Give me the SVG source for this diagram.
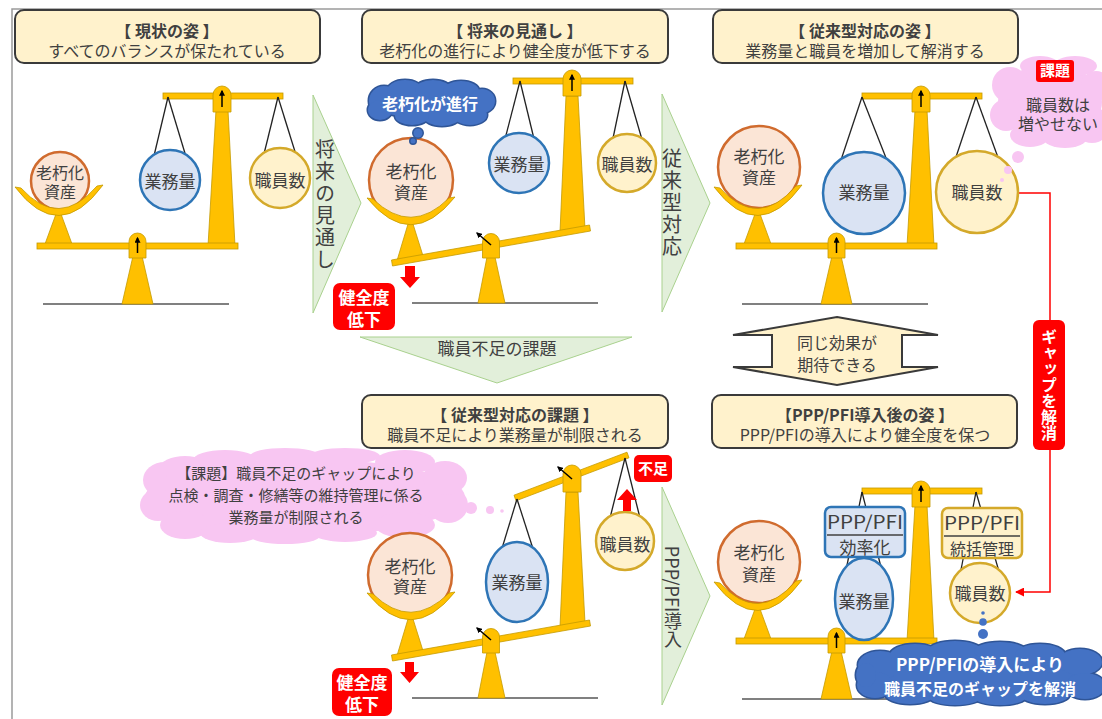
<svg xmlns="http://www.w3.org/2000/svg" width="1102" height="719" viewBox="0 0 1102 719">
<defs>
<style>
text{font-family:'Noto Sans CJK JP','Noto Sans',sans-serif;fill:#404040}
.c{text-anchor:middle}
.b{font-weight:bold}
.f15{font-size:15px}.f16{font-size:16px}.f17{font-size:17px}.f18{font-size:18px}.f20{font-size:20px}
.wt{fill:#fff;font-weight:bold;text-anchor:middle}
.title{fill:#fff2cc;stroke:#3a3a3a;stroke-width:2}
.gold{fill:#ffc000;stroke:#c49a00;stroke-width:0.8}
.ground{stroke:#808080;stroke-width:2}
.str{stroke:#222;stroke-width:1.3;fill:none}
.asset{fill:#fbe5d6;stroke:#d06b2e;stroke-width:2.5}
.work{fill:#dae3f3;stroke:#2e75b6;stroke-width:2.5}
.staff{fill:#fff2cc;stroke:#d4a92a;stroke-width:2.5}
.green{fill:#e2efda;stroke:#a9d18e;stroke-width:1}
.red{fill:#ff0000}
.pink{fill:#f8c6f2}
.blue-o{fill:#4472c4;stroke:#2f5597;stroke-width:3}
.blue-f{fill:#4472c4}
.ptr{stroke:#000;stroke-width:1.5;marker-end:url(#tip)}
.vt{writing-mode:vertical-rl;text-anchor:middle}
.sep{stroke:#404040;stroke-width:1.5}
</style>
<marker id="tip" viewBox="0 0 10 10" refX="8" refY="5" markerWidth="4" markerHeight="4" orient="auto"><path d="M0,0 L10,5 L0,10 Z" fill="#000"/></marker>
<marker id="redtip" viewBox="0 0 10 10" refX="9" refY="5" markerWidth="6" markerHeight="6" orient="auto"><path d="M0,0 L10,5 L0,10 Z" fill="#ff0000"/></marker>

<!-- level balance frame: beams, pillar, caps, pivot and floor -->
<g id="balance">
  <line class="ground" x1="43" y1="304" x2="229" y2="304"/>
  <polygon class="gold" points="133,256 142,256 153,304 122,304"/>
  <polygon class="gold" points="216,110 228,110 235,246 208,246"/>
  <polygon class="gold" points="56,214 61,214 72,244 45,244"/>
  <rect class="gold" x="37" y="243" width="201" height="6"/>
  <path class="gold" d="M129,258 V241.5 a8.5,8.5 0 0 1 17,0 V258 Z"/>
  <line class="ptr" x1="137.5" y1="253" x2="137.5" y2="238"/>
  <rect class="gold" x="163" y="93" width="120" height="6"/>
  <path class="gold" d="M213,112 V95 a9,9 0 0 1 18,0 V112 Z"/>
  <line class="ptr" x1="222" y1="107" x2="222" y2="91"/>
</g>
<path id="bowl" class="gold" d="M15,187 Q59,245 103,185 L97,186 Q59,230 21,188 Z"/>
<path id="tiltBowl" class="gold" d="M367,198 Q411,252 455,197 L449,198 Q411,236 373,199 Z"/>

<!-- blue cloud shapes -->
<g id="cloudSmall">
  <ellipse cx="430" cy="103" rx="56" ry="16"/>
  <circle cx="384" cy="101" r="15"/>
  <ellipse cx="405" cy="91" rx="18" ry="11"/>
  <ellipse cx="433" cy="89" rx="18" ry="9"/>
  <ellipse cx="461" cy="91" rx="18" ry="10"/>
  <ellipse cx="482" cy="101" rx="13" ry="12"/>
  <ellipse cx="470" cy="115" rx="17" ry="10"/>
  <ellipse cx="442" cy="117" rx="18" ry="9"/>
  <ellipse cx="412" cy="116" rx="17" ry="9"/>
  <ellipse cx="380" cy="110" rx="12" ry="10"/>
  <circle cx="418" cy="133" r="4.5"/>
  <circle cx="413" cy="141" r="2.5"/>
</g>
<g id="cloudLarge">
  <ellipse cx="980" cy="674" rx="110" ry="22"/>
  <ellipse cx="880" cy="665" rx="22" ry="14"/>
  <ellipse cx="915" cy="655" rx="25" ry="11"/>
  <ellipse cx="955" cy="650" rx="26" ry="9"/>
  <ellipse cx="1000" cy="651" rx="26" ry="9"/>
  <ellipse cx="1040" cy="655" rx="25" ry="11"/>
  <ellipse cx="1080" cy="662" rx="22" ry="13"/>
  <ellipse cx="875" cy="685" rx="18" ry="13"/>
  <ellipse cx="910" cy="694" rx="25" ry="10"/>
  <ellipse cx="955" cy="697" rx="26" ry="8"/>
  <ellipse cx="1000" cy="697" rx="26" ry="8"/>
  <ellipse cx="1045" cy="694" rx="25" ry="10"/>
  <ellipse cx="1085" cy="686" rx="20" ry="13"/>
  <ellipse cx="866" cy="675" rx="10" ry="12"/>
</g>
</defs>

<rect width="1102" height="719" fill="#fff"/>
<path d="M12,719 V9 H1102" fill="none" stroke="#9a9a9a" stroke-width="1.5"/>

<!-- connectors and flow arrows -->
<g id="connectors">
  <polygon class="green" points="313,95 361,203 313,313"/>
  <text class="vt f20" x="325" y="205" letter-spacing="2">将来の見通し</text>
  <polygon class="green" points="662,94 710,203 662,312"/>
  <text class="vt f20" x="672" y="203" letter-spacing="2">従来型対応</text>
  <polygon class="green" points="662,487 710,596 662,705"/>
  <text class="vt f18" x="673" y="597">PPP/PFI導入</text>
  <polygon class="green" points="360,337 632,337 497,383"/>
  <text class="c f17" x="497" y="355">職員不足の課題</text>
  <polygon points="837,317 938,335 902,335 902,367 938,367 837,385 733,367 772,367 772,335 733,335" fill="#fff2cc" stroke="#3a3a3a" stroke-width="2"/>
  <text class="c f16" x="837" y="349">同じ効果が</text>
  <text class="c f16" x="837" y="371">期待できる</text>
  <path d="M1018,193 H1050 V592 H1016" fill="none" stroke="#ff0000" stroke-width="1.5" marker-end="url(#redtip)"/>
  <rect class="red" x="1033" y="320" width="32" height="130" rx="6"/>
  <text class="vt wt f16" x="1049" y="385">ギャップを解消</text>
</g>

<!-- current state -->
<g id="panel-current">
  <rect class="title" x="15" y="10" width="305" height="53" rx="9"/>
  <text class="c b f16" x="167" y="37">【 現状の姿 】</text>
  <text class="c f16" x="167" y="57">すべてのバランスが保たれている</text>
  <use href="#balance"/>
  <line class="str" x1="168" y1="97" x2="153" y2="160"/>
  <line class="str" x1="168" y1="97" x2="187" y2="160"/>
  <line class="str" x1="278" y1="97" x2="263" y2="158"/>
  <line class="str" x1="278" y1="97" x2="297" y2="158"/>
  <circle class="asset" cx="60" cy="181" r="29"/>
  <text class="c f16" x="60" y="179">老朽化</text>
  <text class="c f16" x="60" y="198">資産</text>
  <use href="#bowl"/>
  <circle class="work" cx="170" cy="180" r="30"/>
  <text class="c f17" x="170" y="188">業務量</text>
  <circle class="staff" cx="280" cy="178" r="30"/>
  <text class="c f17" x="280" y="187">職員数</text>
</g>

<!-- outlook -->
<g id="panel-outlook">
  <rect class="title" x="362" y="10" width="306" height="53" rx="9"/>
  <text class="c b f16" x="515" y="37">【 将来の見通し 】</text>
  <text class="c f16" x="515" y="57">老朽化の進行により健全度が低下する</text>
  <line class="ground" x1="412" y1="303" x2="598" y2="303"/>
  <polygon class="gold" points="487,257 495,257 505,303 478,303"/>
  <polygon class="gold" points="566,96 578,96 585,229 560,232"/>
  <polygon class="gold" points="408,224 413,224 424,259 396,264"/>
  <polygon class="gold" points="391.5,260 589.5,225 590.5,231 392.5,266"/>
  <path class="gold" d="M482.5,258 V242 a8.5,8.5 0 0 1 17,0 V258 Z"/>
  <line class="ptr" x1="491" y1="245" x2="477" y2="233"/>
  <rect class="gold" x="513" y="78" width="120" height="6"/>
  <path class="gold" d="M563,96 V79 a9,9 0 0 1 18,0 V96 Z"/>
  <line class="ptr" x1="572" y1="91" x2="572" y2="75"/>
  <line class="str" x1="520" y1="81" x2="504" y2="143"/>
  <line class="str" x1="520" y1="81" x2="535" y2="143"/>
  <line class="str" x1="625" y1="81" x2="612" y2="143"/>
  <line class="str" x1="625" y1="81" x2="643" y2="143"/>
  <circle class="asset" cx="411" cy="180" r="42"/>
  <text class="c f17" x="411" y="178">老朽化</text>
  <text class="c f17" x="411" y="199">資産</text>
  <use href="#tiltBowl"/>
  <circle class="work" cx="519" cy="163" r="30"/>
  <text class="c f17" x="519" y="171">業務量</text>
  <circle class="staff" cx="627" cy="163" r="29"/>
  <text class="c f17" x="627" y="171">職員数</text>
  <use href="#cloudSmall" class="blue-o"/>
  <use href="#cloudSmall" class="blue-f"/>
  <text class="wt f16" x="430" y="110">老朽化が進行</text>
  <polygon class="red" points="405,266 415,266 415,277 420,277 410,288 400,277 405,277"/>
  <rect class="red" x="333" y="283" width="62" height="47" rx="7"/>
  <text class="wt f17" x="364" y="304">健全度</text>
  <text class="wt f17" x="364" y="326">低下</text>
</g>

<!-- conventional response -->
<g id="panel-conventional">
  <rect class="title" x="713" y="10" width="305" height="53" rx="9"/>
  <text class="c b f16" x="865" y="37">【 従来型対応の姿 】</text>
  <text class="c f16" x="865" y="57">業務量と職員を増加して解消する</text>
  <use href="#balance" x="699"/>
  <line class="str" x1="862" y1="97" x2="840" y2="163"/>
  <line class="str" x1="862" y1="97" x2="888" y2="163"/>
  <line class="str" x1="976" y1="97" x2="954" y2="163"/>
  <line class="str" x1="976" y1="97" x2="1000" y2="163"/>
  <circle class="asset" cx="759" cy="167" r="41"/>
  <text class="c f17" x="759" y="163">老朽化</text>
  <text class="c f17" x="759" y="184">資産</text>
  <use href="#bowl" x="699"/>
  <circle class="work" cx="864" cy="193" r="41"/>
  <text class="c f17" x="864" y="199">業務量</text>
  <circle class="staff" cx="977" cy="192" r="41"/>
  <text class="c f17" x="977" y="199">職員数</text>
  <g class="pink">
    <ellipse cx="1050" cy="102" rx="52" ry="38"/>
    <circle cx="1010" cy="85" r="18"/>
    <circle cx="1006" cy="115" r="16"/>
    <ellipse cx="1030" cy="135" rx="20" ry="12"/>
    <ellipse cx="1065" cy="138" rx="22" ry="10"/>
    <circle cx="1092" cy="125" r="18"/>
    <ellipse cx="1040" cy="66" rx="20" ry="10"/>
    <ellipse cx="1075" cy="66" rx="22" ry="10"/>
    <circle cx="1096" cy="86" r="15"/>
    <circle cx="1018" cy="157" r="6"/>
    <circle cx="1008" cy="170" r="4"/>
    <circle cx="1002" cy="180" r="2"/>
  </g>
  <rect class="red" x="1036" y="60" width="38" height="22" rx="3"/>
  <text class="wt f15" x="1055" y="76">課題</text>
  <text class="c f16" x="1058" y="111">職員数は</text>
  <text class="c f16" x="1058" y="130">増やせない</text>
</g>

<!-- shortfall issue -->
<g id="panel-shortfall">
  <rect class="title" x="362" y="395" width="306" height="53" rx="9"/>
  <text class="c b f16" x="515" y="421">【 従来型対応の課題 】</text>
  <text class="c f16" x="515" y="441">職員不足により業務量が制限される</text>
  <g class="pink">
    <ellipse cx="305" cy="497" rx="160" ry="38"/>
    <ellipse cx="165" cy="480" rx="22" ry="18"/>
    <ellipse cx="158" cy="505" rx="18" ry="16"/>
    <ellipse cx="185" cy="525" rx="25" ry="14"/>
    <ellipse cx="230" cy="533" rx="30" ry="10"/>
    <ellipse cx="285" cy="536" rx="35" ry="8"/>
    <ellipse cx="345" cy="533" rx="32" ry="9"/>
    <ellipse cx="405" cy="525" rx="30" ry="13"/>
    <ellipse cx="448" cy="505" rx="20" ry="18"/>
    <ellipse cx="445" cy="478" rx="22" ry="17"/>
    <ellipse cx="405" cy="462" rx="30" ry="12"/>
    <ellipse cx="345" cy="456" rx="35" ry="8"/>
    <ellipse cx="285" cy="456" rx="35" ry="8"/>
    <ellipse cx="225" cy="460" rx="32" ry="10"/>
    <ellipse cx="185" cy="468" rx="25" ry="12"/>
    <circle cx="471" cy="508" r="6"/>
    <circle cx="490" cy="510" r="4"/>
    <circle cx="502" cy="511" r="1.8"/>
  </g>
  <text class="c f15" x="296" y="479">【課題】職員不足のギャップにより</text>
  <text class="c f15" x="296" y="501">点検・調査・修繕等の維持管理に係る</text>
  <text class="c f15" x="296" y="523">業務量が制限される</text>
  <line class="ground" x1="412" y1="698" x2="598" y2="698"/>
  <polygon class="gold" points="487,652 495,652 505,698 478,698"/>
  <polygon class="gold" points="566,492 578,492 585,623 560,627"/>
  <polygon class="gold" points="408,619 413,619 424,654 396,659"/>
  <polygon class="gold" points="391.5,655 589.5,620 590.5,626 392.5,661"/>
  <path class="gold" d="M482.5,653 V637 a8.5,8.5 0 0 1 17,0 V653 Z"/>
  <line class="ptr" x1="491" y1="640" x2="477" y2="628"/>
  <polygon class="gold" points="514,495.2 627,452.2 629,457.8 516,500.8"/>
  <path class="gold" d="M563,492 V474 a9,9 0 0 1 18,0 V492 Z"/>
  <line class="ptr" x1="572" y1="479" x2="558" y2="467"/>
  <line class="str" x1="517" y1="499" x2="500" y2="555"/>
  <line class="str" x1="517" y1="499" x2="535" y2="555"/>
  <line class="str" x1="625" y1="458" x2="609" y2="522"/>
  <line class="str" x1="625" y1="458" x2="641" y2="522"/>
  <circle class="asset" cx="410" cy="575" r="42"/>
  <text class="c f17" x="410" y="573">老朽化</text>
  <text class="c f17" x="410" y="593">資産</text>
  <use href="#tiltBowl" y="395"/>
  <ellipse class="work" cx="517" cy="582" rx="31" ry="40"/>
  <text class="c f17" x="517" y="589">業務量</text>
  <circle class="staff" cx="625" cy="541" r="29"/>
  <text class="c f17" x="625" y="551">職員数</text>
  <polygon class="red" points="627,489 637,500 631,500 631,511 623,511 623,500 617,500"/>
  <rect class="red" x="634" y="455" width="38" height="27" rx="5"/>
  <text class="wt f15" x="653" y="474">不足</text>
  <polygon class="red" points="405,662 414,662 414,672 419,672 409.5,683 400,672 405,672"/>
  <rect class="red" x="332" y="668" width="60" height="48" rx="7"/>
  <text class="wt f17" x="362" y="689">健全度</text>
  <text class="wt f17" x="362" y="711">低下</text>
</g>

<!-- after PPP/PFI -->
<g id="panel-pppPfi">
  <rect class="title" x="712" y="395" width="305" height="53" rx="9"/>
  <text class="c b f16" x="865" y="421">【PPP/PFI導入後の姿 】</text>
  <text class="c f16" x="865" y="441">PPP/PFIの導入により健全度を保つ</text>
  <use href="#balance" x="699" y="395"/>
  <line class="str" x1="862" y1="492" x2="845" y2="575"/>
  <line class="str" x1="862" y1="492" x2="883" y2="575"/>
  <line class="str" x1="976" y1="492" x2="960" y2="575"/>
  <line class="str" x1="976" y1="492" x2="1000" y2="575"/>
  <circle class="asset" cx="759" cy="562" r="41"/>
  <text class="c f17" x="759" y="559">老朽化</text>
  <text class="c f17" x="759" y="581">資産</text>
  <use href="#bowl" x="699" y="395"/>
  <ellipse class="work" cx="864" cy="599" rx="29" ry="41"/>
  <text class="c f17" x="864" y="608">業務量</text>
  <circle class="staff" cx="980" cy="593" r="30"/>
  <text class="c f17" x="980" y="600">職員数</text>
  <rect class="work" x="825" y="507" width="80" height="50" rx="6"/>
  <line class="sep" x1="827" y1="535" x2="903" y2="535"/>
  <text class="c f18" x="865" y="529" textLength="76" lengthAdjust="spacingAndGlyphs">PPP/PFI</text>
  <text class="c f17" x="865" y="554">効率化</text>
  <rect class="staff" x="942" y="508" width="80" height="50" rx="6"/>
  <line class="sep" x1="944" y1="536" x2="1020" y2="536"/>
  <text class="c f18" x="982" y="530" textLength="76" lengthAdjust="spacingAndGlyphs">PPP/PFI</text>
  <text class="c f16" x="982" y="555">統括管理</text>
  <g class="blue-f">
    <circle cx="983" cy="613" r="1.8"/>
    <circle cx="983" cy="622" r="3.8"/>
    <circle cx="983" cy="634" r="5"/>
  </g>
  <use href="#cloudLarge" class="blue-o"/>
  <use href="#cloudLarge" class="blue-f"/>
  <text class="wt f17" x="980" y="671">PPP/PFIの導入により</text>
  <text class="wt f16" x="980" y="695">職員不足のギャップを解消</text>
</g>
</svg>
